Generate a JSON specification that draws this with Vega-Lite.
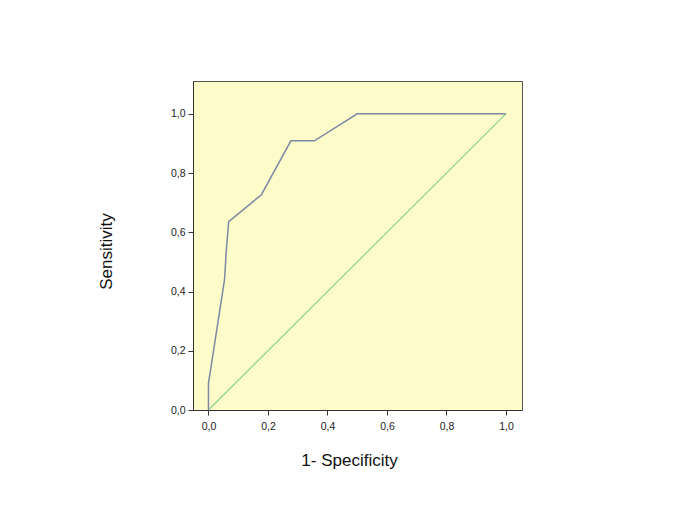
{
  "$schema": "https://vega.github.io/schema/vega-lite/v6.json",
  "width": 329,
  "height": 329,
  "autosize": {"type": "none"},
  "padding": {"left": 193, "top": 81, "right": 163, "bottom": 103},
  "background": "white",
  "view": {"fill": "#FDFBC9", "stroke": "#555555", "strokeWidth": 1},
  "config": {
    "font": "Liberation Sans",
    "axis": {
      "grid": false,
      "domainColor": "#333333",
      "tickColor": "#333333",
      "tickSize": 5,
      "labelFont": "Liberation Sans",
      "labelFontSize": 10.5,
      "labelColor": "#222222",
      "titleFont": "Liberation Sans",
      "titleFontSize": 17,
      "titleFontWeight": "normal",
      "titleColor": "#111111"
    }
  },
  "datasets": {
    "roc": [
      {"fpr": 0.0, "tpr": 0.0, "o": 0},
      {"fpr": 0.0, "tpr": 0.09, "o": 1},
      {"fpr": 0.054, "tpr": 0.44, "o": 2},
      {"fpr": 0.06, "tpr": 0.54, "o": 3},
      {"fpr": 0.068, "tpr": 0.636, "o": 4},
      {"fpr": 0.178, "tpr": 0.727, "o": 5},
      {"fpr": 0.277, "tpr": 0.909, "o": 6},
      {"fpr": 0.356, "tpr": 0.909, "o": 7},
      {"fpr": 0.5, "tpr": 1.0, "o": 8},
      {"fpr": 1.0, "tpr": 1.0, "o": 9}
    ],
    "ref": [
      {"fpr": 0.0, "tpr": 0.0, "o": 0},
      {"fpr": 1.0, "tpr": 1.0, "o": 1}
    ]
  },
  "layer": [
    {
      "data": {"name": "ref"},
      "mark": {"type": "line", "color": "#8FD48F", "strokeWidth": 1.2},
      "encoding": {
        "x": {"field": "fpr", "type": "quantitative", "scale": {"domain": [-0.052, 1.054], "nice": false, "zero": false},
          "axis": {"values": [0, 0.2, 0.4, 0.6, 0.8, 1.0], "labelExpr": "replace(format(datum.value, '.1f'), '.', ',')", "title": "1- Specificity", "titleX": 156, "titleY": 50, "titleAlign": "center", "titleBaseline": "middle", "labelPadding": 6}},
        "y": {"field": "tpr", "type": "quantitative", "scale": {"domain": [0, 1.111], "nice": false, "zero": false},
          "axis": {"values": [0, 0.2, 0.4, 0.6, 0.8, 1.0], "labelExpr": "replace(format(datum.value, '.1f'), '.', ',')", "title": "Sensitivity", "titleX": -87, "titleY": 170, "titleAngle": -90, "titleAlign": "center", "titleBaseline": "middle", "labelPadding": 3}},
        "order": {"field": "o"}
      }
    },
    {
      "data": {"name": "roc"},
      "mark": {"type": "line", "color": "#7E8AA3", "strokeWidth": 1.5},
      "encoding": {
        "x": {"field": "fpr", "type": "quantitative"},
        "y": {"field": "tpr", "type": "quantitative"},
        "order": {"field": "o"}
      }
    }
  ]
}
